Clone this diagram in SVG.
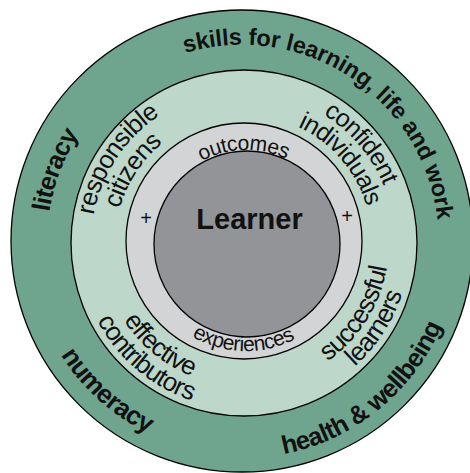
<svg xmlns="http://www.w3.org/2000/svg" xmlns:xlink="http://www.w3.org/1999/xlink" width="470" height="473" viewBox="0 0 470 473">
<style>
.ring{stroke:#000;stroke-width:1.3}
.t{font-family:"Liberation Sans",Arial,Helvetica,sans-serif;fill:#111}
.b{font-weight:bold}
</style>
<defs>
<path id="pSkills" d="M99.3,105.6 A197,197 0 0,1 422.8,319.2"/>
<path id="pLit" d="M142.2,408.5 A195,195 0 0,1 278.5,49.5"/>
<path id="pNum" d="M60.5,127.6 A214,214 0 0,0 373.8,409.6"/>
<path id="pHealth" d="M99.6,404.8 A217,217 0 0,0 431.8,135.8"/>
<path id="pResp" d="M138.7,354.0 A153,153 0 0,1 305.0,102.7"/>
<path id="pCit" d="M156.0,337.3 A129,129 0 0,1 294.4,124.3"/>
<path id="pConf" d="M167.4,112.9 A151,151 0 0,1 360.5,339.1"/>
<path id="pInd" d="M178.1,133.3 A128,128 0 0,1 343.5,323.6"/>
<path id="pSucc" d="M189.0,377.2 A145,145 0 0,0 341.6,135.8"/>
<path id="pLearn" d="M179.1,395.8 A166,166 0 0,0 357.2,121.6"/>
<path id="pEff" d="M119.5,172.6 A143,143 0 0,0 336.9,351.7"/>
<path id="pCon" d="M100.8,159.0 A166,166 0 0,0 349.8,370.9"/>
<path id="pOut" d="M153.0,230.1 A94,94 0 0,1 338.1,225.3"/>
<path id="pExp" d="M140.1,259.6 A107,107 0 0,0 350.8,265.5"/>
</defs>

<g id="outer-ring">
<circle class="ring" cx="242" cy="241" r="231" fill="#6fa58f" stroke-width="1.8"/>
<text class="t b" font-size="23.5" letter-spacing="-0.2"><textPath xlink:href="#pSkills" startOffset="50%" text-anchor="middle">skills for learning, life and work</textPath></text>
<text class="t b" font-size="25.5" letter-spacing="-0.8"><textPath xlink:href="#pLit" startOffset="50%" text-anchor="middle">literacy</textPath></text>
<text class="t b" font-size="26" letter-spacing="-0.6"><textPath xlink:href="#pNum" startOffset="50%" text-anchor="middle">numeracy</textPath></text>
<text class="t b" font-size="25.5" letter-spacing="-0.7"><textPath xlink:href="#pHealth" startOffset="50%" text-anchor="middle">health &amp; wellbeing</textPath></text>
</g>

<g id="capacities-ring">
<circle class="ring" cx="244" cy="243" r="173" fill="#bdd7ca"/>
<text class="t" font-size="25.5" letter-spacing="-0.7"><textPath xlink:href="#pResp" startOffset="50%" text-anchor="middle">responsible</textPath></text>
<text class="t" font-size="25.5" letter-spacing="-0.7"><textPath xlink:href="#pCit" startOffset="50%" text-anchor="middle">citizens</textPath></text>
<text class="t" font-size="25" letter-spacing="-0.8"><textPath xlink:href="#pConf" startOffset="50%" text-anchor="middle">confident</textPath></text>
<text class="t" font-size="25" letter-spacing="-0.8"><textPath xlink:href="#pInd" startOffset="50%" text-anchor="middle">individuals</textPath></text>
<text class="t" font-size="26" letter-spacing="-0.8"><textPath xlink:href="#pSucc" startOffset="50%" text-anchor="middle">successful</textPath></text>
<text class="t" font-size="26" letter-spacing="-0.8"><textPath xlink:href="#pLearn" startOffset="50%" text-anchor="middle">learners</textPath></text>
<text class="t" font-size="26" letter-spacing="-0.8"><textPath xlink:href="#pEff" startOffset="50%" text-anchor="middle">effective</textPath></text>
<text class="t" font-size="26" letter-spacing="-0.8"><textPath xlink:href="#pCon" startOffset="50%" text-anchor="middle">contributors</textPath></text>
</g>

<g id="experience-ring">
<circle class="ring" cx="244" cy="241" r="118" fill="#d3d4d6"/>
<text class="t" font-size="21" letter-spacing="-0.4"><textPath xlink:href="#pOut" startOffset="50%" text-anchor="middle">outcomes</textPath></text>
<text class="t" font-size="21" letter-spacing="-0.5"><textPath xlink:href="#pExp" startOffset="50%" text-anchor="middle">experiences</textPath></text>
<text class="t" font-size="20" x="146" y="225" text-anchor="middle">+</text>
<text class="t" font-size="20" x="347" y="223" text-anchor="middle">+</text>
</g>

<g id="learner">
<circle class="ring" cx="247" cy="244" r="93" fill="#929497"/>
<text class="t b" font-size="29" x="249.5" y="229" text-anchor="middle">Learner</text>
</g>
</svg>
